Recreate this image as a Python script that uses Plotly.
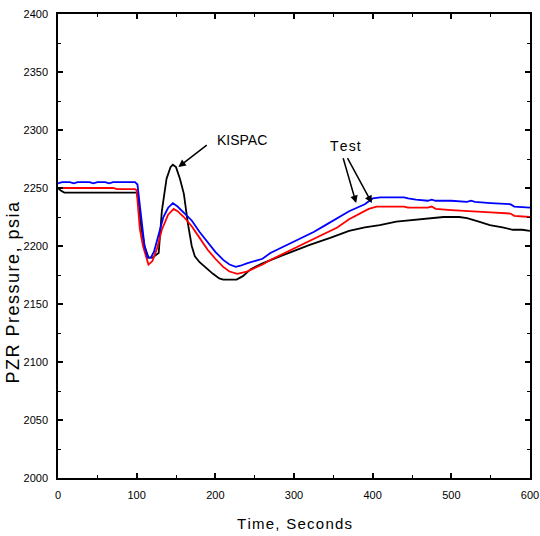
import plotly.graph_objects as go

blue_t = [0, 5, 15, 20, 25, 40, 45, 50, 60, 65, 70, 98, 101, 106, 110, 114, 118, 122, 128, 134, 140, 146, 152, 160, 170, 180, 190, 200, 210, 218, 226, 232, 240, 250, 260, 270, 282, 295, 310, 325, 340, 355, 370, 380, 390, 400, 410, 440, 445, 455, 470, 475, 480, 500, 520, 525, 530, 550, 575, 580, 600]
blue_p = [2254, 2255, 2255, 2254, 2255, 2255, 2254, 2255, 2255, 2254, 2255, 2255, 2253, 2220, 2200, 2190, 2190, 2195, 2210, 2225, 2233, 2237, 2234, 2229, 2222, 2212, 2203, 2195, 2188, 2184, 2182, 2183, 2185, 2187, 2189, 2194, 2198, 2202, 2207, 2212, 2218, 2224, 2230, 2233, 2236, 2241, 2242, 2242, 2241, 2240, 2239, 2240, 2239, 2239, 2238, 2239, 2238, 2237, 2236, 2234, 2233]

red_t = [0, 70, 75, 98, 100, 104, 108, 115, 120, 126, 132, 140, 147, 152, 160, 170, 180, 190, 200, 210, 218, 228, 240, 250, 260, 270, 282, 295, 310, 325, 340, 355, 370, 385, 395, 405, 440, 445, 470, 475, 480, 500, 520, 550, 575, 580, 600]
red_p = [2250, 2250, 2249, 2249, 2248, 2215, 2200, 2184, 2187, 2198, 2214, 2227, 2232, 2230, 2225, 2217, 2207, 2197, 2189, 2182, 2178, 2176, 2178, 2181, 2184, 2188, 2192, 2196, 2201, 2206, 2211, 2216, 2223, 2228, 2232, 2234, 2234, 2233, 2233, 2234, 2232, 2231, 2230, 2229, 2228, 2226, 2225]

black_t = [0, 3, 8, 100, 102, 106, 110, 115, 120, 128, 132, 138, 143, 146, 150, 155, 160, 165, 170, 174, 180, 190, 197, 205, 210, 227, 235, 245, 260, 282, 300, 320, 346, 370, 390, 409, 430, 460, 490, 510, 520, 535, 549, 565, 578, 590, 600]
black_p = [2250, 2248, 2246, 2246, 2240, 2215, 2200, 2190, 2190, 2194, 2230, 2258, 2268, 2270, 2268, 2258, 2245, 2220, 2200, 2191, 2186, 2180, 2176, 2172, 2171, 2171, 2174, 2180, 2185, 2191, 2196, 2201, 2207, 2213, 2216, 2218, 2221, 2223, 2225, 2225, 2224, 2221, 2218, 2216, 2214, 2214, 2213]

x_ticks = [0, 100, 200, 300, 400, 500, 600]
y_ticks = [2000, 2050, 2100, 2150, 2200, 2250, 2300, 2350, 2400]

HS = "\u200a"  # hair space for letter spacing


def spaced(s):
    return HS.join(list(s))


fig = go.Figure()
fig.add_trace(go.Scatter(x=black_t, y=black_p, mode="lines", line=dict(color="black", width=1.8)))
fig.add_trace(go.Scatter(x=red_t, y=red_p, mode="lines", line=dict(color="#ff0000", width=1.8)))
fig.add_trace(go.Scatter(x=blue_t, y=blue_p, mode="lines", line=dict(color="#0000ff", width=1.8)))

tickfont = dict(family="Liberation Sans, Arial", size=11, color="black")
axis_common = dict(showline=True, linecolor="black", linewidth=1.5, mirror="ticks",
                   ticks="inside", ticklen=5, tickwidth=1.5, tickcolor="black",
                   showgrid=False, zeroline=False, tickfont=tickfont, automargin=False,
                   ticklabeloverflow="allow", ticklabelstandoff=6)
fig.update_xaxes(range=[0, 600], tickvals=x_ticks, ticktext=[str(v) for v in x_ticks],
                 minor=dict(dtick=50, ticks="inside", ticklen=3, tickwidth=1.2, tickcolor="black"),
                 **axis_common)
fig.update_yaxes(range=[2000, 2400], tickvals=y_ticks, ticktext=[str(v) for v in y_ticks],
                 minor=dict(dtick=25, ticks="inside", ticklen=3, tickwidth=1.2, tickcolor="black"),
                 **axis_common)

afont = dict(family="Liberation Sans, Arial", size=14, color="black")
fig.add_annotation(x=153, y=2268, ax=191, ay=2288, axref="x", ayref="y", xref="x", yref="y",
                   showarrow=True, arrowhead=2, arrowsize=1, arrowwidth=1.5, arrowcolor="black", text="")
fig.add_annotation(x=234, y=2291, text="KISPAC", showarrow=False, font=afont)
fig.add_annotation(x=379, y=2237, ax=362, ay=2277, axref="x", ayref="y", xref="x", yref="y",
                   showarrow=True, arrowhead=2, arrowsize=1, arrowwidth=1.5, arrowcolor="black", text="")
fig.add_annotation(x=399, y=2237, ax=367, ay=2277, axref="x", ayref="y", xref="x", yref="y",
                   showarrow=True, arrowhead=2, arrowsize=1, arrowwidth=1.5, arrowcolor="black", text="")
fig.add_annotation(x=366, y=2286, text=spaced("Test"), showarrow=False, font=afont)

fig.add_annotation(x=0.5, y=-0.099, xref="paper", yref="paper", text=spaced("Time, Seconds"),
                   showarrow=False, font=dict(family="Liberation Sans, Arial", size=15, color="black"),
                   yanchor="middle")
fig.add_annotation(x=-0.095, y=0.40, xref="paper", yref="paper", text=spaced("PZR Pressure, psia"), textangle=-90,
                   showarrow=False, font=dict(family="Liberation Sans, Arial", size=18, color="black"),
                   xanchor="center", yanchor="middle")

fig.update_layout(width=540, height=536, margin=dict(l=58, r=10, t=14, b=58, autoexpand=False),
                  autosize=False, paper_bgcolor="white", plot_bgcolor="white", showlegend=False)
fig.write_html("out.html")
